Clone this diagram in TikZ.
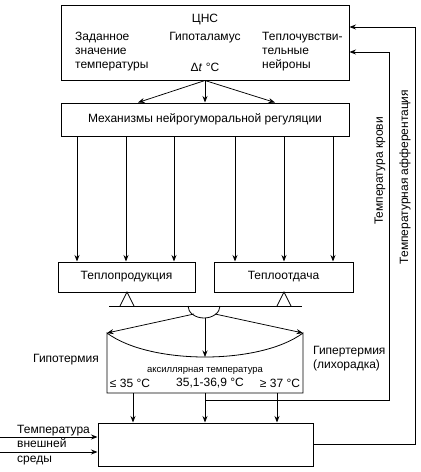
\documentclass[tikz,border=0pt]{standalone}
\usepackage{fontspec}
\setmainfont{Liberation Sans}
\usetikzlibrary{arrows.meta,calc}
\begin{document}
\begin{tikzpicture}[x=1pt,y=-1pt,
  box/.style={draw,line width=1pt,inner sep=0pt},
  txt/.style={inner sep=0pt,font=\fontsize{12}{14}\selectfont},
  small/.style={inner sep=0pt,font=\fontsize{9.5}{10}\selectfont},
  arr/.style={-{Stealth[length=6.5pt,width=5pt]},line width=0.75pt},
  ln/.style={line width=0.8pt}]
\useasboundingbox (0,0) rectangle (421,472);
% boxes
\node[box,minimum width=288pt,minimum height=75pt] (cns) at (205,42.5) {};
\node[box,minimum width=288pt,minimum height=33pt] (mech) at (205,119.5) {};
\node[box,minimum width=137pt,minimum height=30pt] (prod) at (126.5,277) {};
\node[box,minimum width=139pt,minimum height=30pt] (otd) at (283.5,277) {};
\node[box,minimum width=215pt,minimum height=43pt] (body) at (205.5,444.5) {};
% texts
\node[txt] (t1) at (205,20) {ЦНС};
\node[txt,anchor=west,align=left] (t2) at (75,52) {Заданное\\значение\\температуры};
\node[txt] (t3) at (205,38) {Гипоталамус};
\node[txt] (t4) at (205,67) {Δ\textit{t} °C};
\node[txt,anchor=west,align=left] (t5) at (262,52) {Теплочувстви-\\тельные\\нейроны};
\node[txt] (t6) at (mech) {Механизмы нейрогуморальной регуляции};
\node[txt] (t7) at (prod) {Теплопродукция};
\node[txt] (t8) at (otd) {Теплоотдача};
\node[txt] (t9) at (66,360) {Гипотермия};
\node[txt,anchor=west,align=left] (t10) at (313,359) {Гипертермия\\(лихорадка)};
\node[small] (t11) at (205,371) {аксиллярная температура};
\node[txt] (t12) at (130,383) {≤ 35 °C};
\node[txt] (t13) at (210,383) {35,1-36,9 °C};
\node[txt] (t14) at (280,383) {≥ 37 °C};
\node[txt,rotate=90] (t15) at (380,171) {Температура крови};
\node[txt,rotate=90] (t16) at (405,177) {Температурная афферентация};
\node[txt,anchor=west,align=left,font=\fontsize{12}{14.5}\selectfont] (t17) at (17,445) {Температура\\внешней\\среды};
% cns -> mech
\draw[arr] (cns.south) -- ($(mech.north)+(-67,0)$);
\draw[arr] (cns.south) -- (mech.north);
\draw[arr] (cns.south) -- ($(mech.north)+(70,0)$);
% mech -> prod/otd
\foreach \xx in {77,126,174} \draw[arr] (mech.south -| \xx,0) -- (prod.north -| \xx,0);
\foreach \xx in {235,284,333} \draw[arr] (mech.south -| \xx,0) -- (otd.north -| \xx,0);
% balance
\draw[ln] (120,306) -- (127,292) -- (134,306);
\draw[ln] (277,306) -- (284,292) -- (291,306);
\draw[ln] (109,306) -- (302,306);
\draw[ln] (220,306) arc[start angle=0,end angle=180,x radius=16,y radius=12];
% bowl
\coordinate (bl) at (107,333);
\coordinate (br) at (303,333);
\coordinate (bm) at (205,357);
\draw[ln] (bl) .. controls (150,365) and (260,365) .. (br) -- (303,393) -- (107,393) -- cycle;
\draw[arr] (194,314) -- (bl);
\draw[arr] (205,318) -- (bm);
\draw[arr] (215,314) -- (br);
% bowl -> body
\draw[arr] (133,393) -- (body.north -| 133,0);
\draw[arr] (205,393) -- (body.north -| 205,0);
\draw[arr] (277,393) -- (body.north -| 277,0);
% feedback lines
\coordinate (k1) at (205,400);
\draw[arr] (k1) -- (389,400) -- (389,52) -- (cns.east |- 0,52);
\draw[arr] (body.east |- 0,444) -- (415,444) -- (415,27) -- (cns.east |- 0,27);
% external inputs
\coordinate (e1) at (0,437);
\coordinate (e2) at (0,452);
\draw[arr] (e1) -- (body.west |- e1);
\draw[arr] (e2) -- (body.west |- e2);
\end{tikzpicture}
\end{document}
